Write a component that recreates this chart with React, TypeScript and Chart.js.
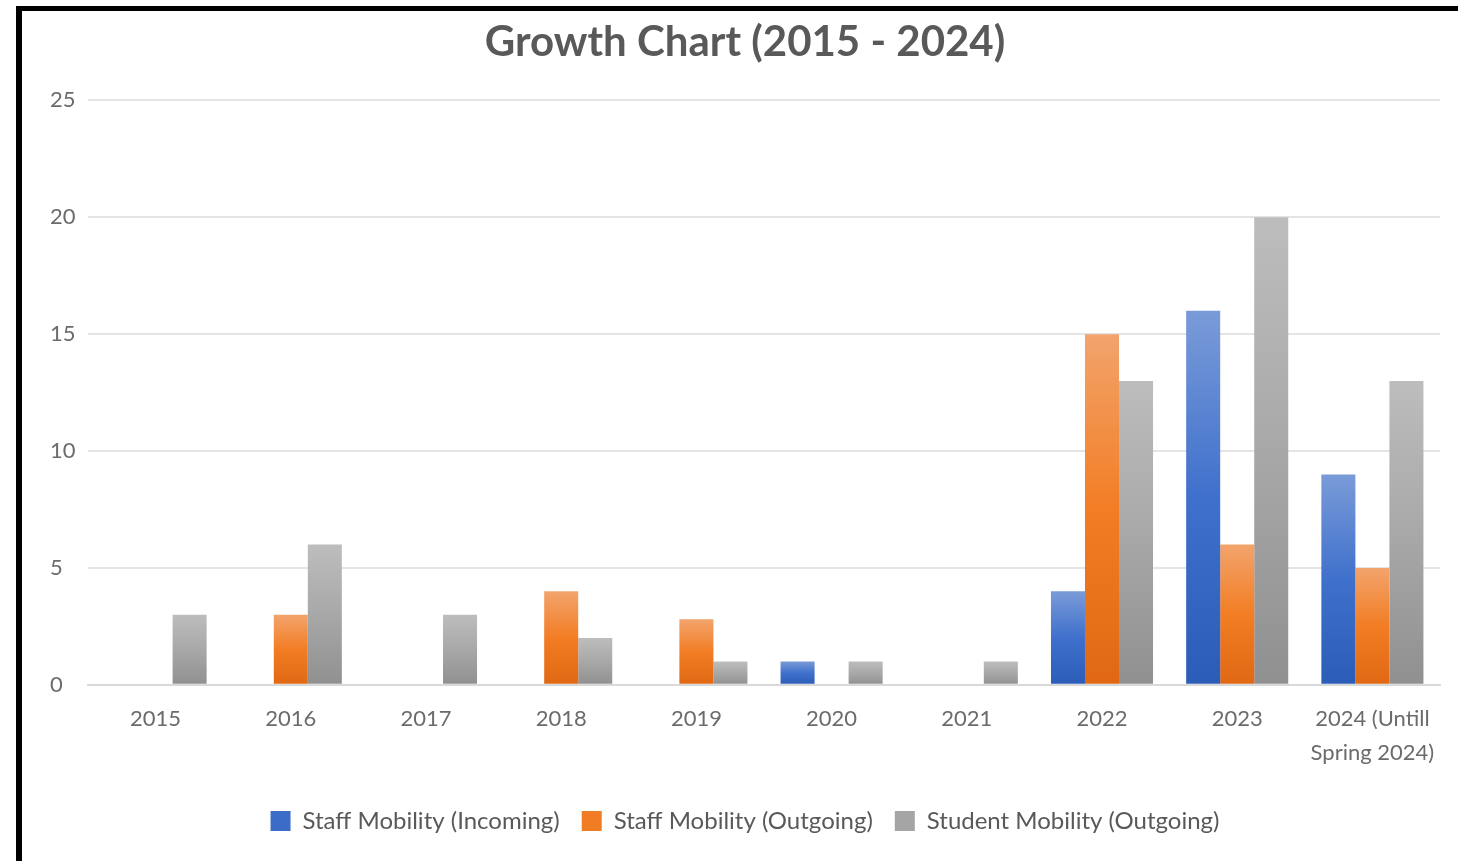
import React, { useEffect, useRef } from "react";
import { Chart, registerables } from "chart.js";

Chart.register(...registerables);

const categories: (string | string[])[] = [
  "2015", "2016", "2017", "2018", "2019", "2020", "2021", "2022", "2023", ["2024 (Untill", "Spring 2024)"],
];
const staffIncoming = [0, 0, 0, 0, 0, 1, 0, 4, 16, 9];
const staffOutgoing = [0, 3, 0, 4, 2.8, 0, 0, 15, 6, 5];
const studentOutgoing = [3, 6, 3, 2, 1, 1, 1, 13, 20, 13];
const seriesNames = ["Staff Mobility (Incoming)", "Staff Mobility (Outgoing)", "Student Mobility (Outgoing)"];
const yTicks = [0, 5, 10, 15, 20, 25];
const titleText = "Growth Chart (2015 - 2024)";

const palettes = [
  { solid: "#3a6cc8", top: "#7a9bd8", mid: "#3f70cc", bottom: "#2b5cb8" },
  { solid: "#f07d23", top: "#f2a46c", mid: "#f27d24", bottom: "#e06813" },
  { solid: "#a5a5a5", top: "#bdbdbd", mid: "#a8a8a8", bottom: "#909090" },
];

function gradientFor(idx: number) {
  return (c: any) => {
    const p = palettes[idx];
    const chart = c.chart;
    if (!chart.chartArea || c.type !== "data" || typeof c.raw !== "number" || c.raw <= 0) return p.solid;
    const y = chart.scales.y;
    const top = y.getPixelForValue(c.raw);
    const bottom = y.getPixelForValue(0);
    if (bottom - top < 1) return p.solid;
    const g = chart.ctx.createLinearGradient(0, top, 0, bottom);
    g.addColorStop(0, p.top);
    g.addColorStop(0.5, p.mid);
    g.addColorStop(1, p.bottom);
    return g;
  };
}

export default function App() {
  const ref = useRef<HTMLCanvasElement | null>(null);

  useEffect(() => {
    document.body.style.margin = "0";
    const canvas = ref.current;
    if (!canvas) return;
    const font = "Lato, 'Open Sans', sans-serif";
    const values = [staffIncoming, staffOutgoing, studentOutgoing];
    const chart = new Chart(canvas, {
      type: "bar",
      data: {
        labels: categories,
        datasets: values.map((v, i) => ({
          label: seriesNames[i],
          data: v,
          backgroundColor: gradientFor(i),
          borderWidth: 0,
          barPercentage: 1,
          categoryPercentage: 0.755,
        })),
      },
      options: {
        responsive: false,
        animation: false,
        layout: { padding: { left: 50, right: 18, top: 0, bottom: 18 } },
        plugins: {
          tooltip: { enabled: false },
          title: {
            display: true,
            text: titleText,
            color: "#595959",
            font: { family: font, size: 42, weight: "bold" },
            padding: { top: 17, bottom: 33 },
          },
          legend: {
            position: "bottom",
            labels: {
              color: "#595959",
              font: { family: font, size: 24 },
              boxWidth: 20,
              boxHeight: 20,
              padding: 22,
              generateLabels: () =>
                seriesNames.map((name, i) => ({
                  text: name,
                  fillStyle: palettes[i].solid,
                  strokeStyle: palettes[i].solid,
                  lineWidth: 0,
                  hidden: false,
                  datasetIndex: i,
                  fontColor: "#595959",
                })),
            },
          },
        },
        scales: {
          x: {
            grid: { display: false, drawTicks: false },
            border: { display: true, color: "#d9d9d9", width: 2 },
            ticks: {
              color: "#6b6b6b",
              font: { family: font, size: 22, lineHeight: 1.55 },
              padding: 17,
              maxRotation: 0,
              autoSkip: false,
            },
          },
          y: {
            min: 0,
            max: 25,
            afterBuildTicks: (s: any) => {
              s.ticks = yTicks.map((v) => ({ value: v }));
            },
            afterFit: (s: any) => {
              s.width = 38;
            },
            grid: { color: "#e4e4e4", lineWidth: 2, drawTicks: false },
            border: { display: false },
            ticks: {
              color: "#6b6b6b",
              font: { family: font, size: 22 },
              crossAlign: "far",
              padding: 14,
            },
          },
        },
      },
    });
    return () => chart.destroy();
  }, []);

  return (
    <div style={{ position: "absolute", left: 0, top: 0, width: 1458, height: 861, background: "#fff", overflow: "hidden" }}>
      <canvas ref={ref} width={1458} height={861} style={{ position: "absolute", left: 0, top: 0 }} />
      <div
        style={{
          position: "absolute",
          left: 16,
          top: 6,
          right: 0,
          bottom: 0,
          borderTop: "5px solid #000",
          borderLeft: "6px solid #000",
          pointerEvents: "none",
        }}
      />
    </div>
  );
}
